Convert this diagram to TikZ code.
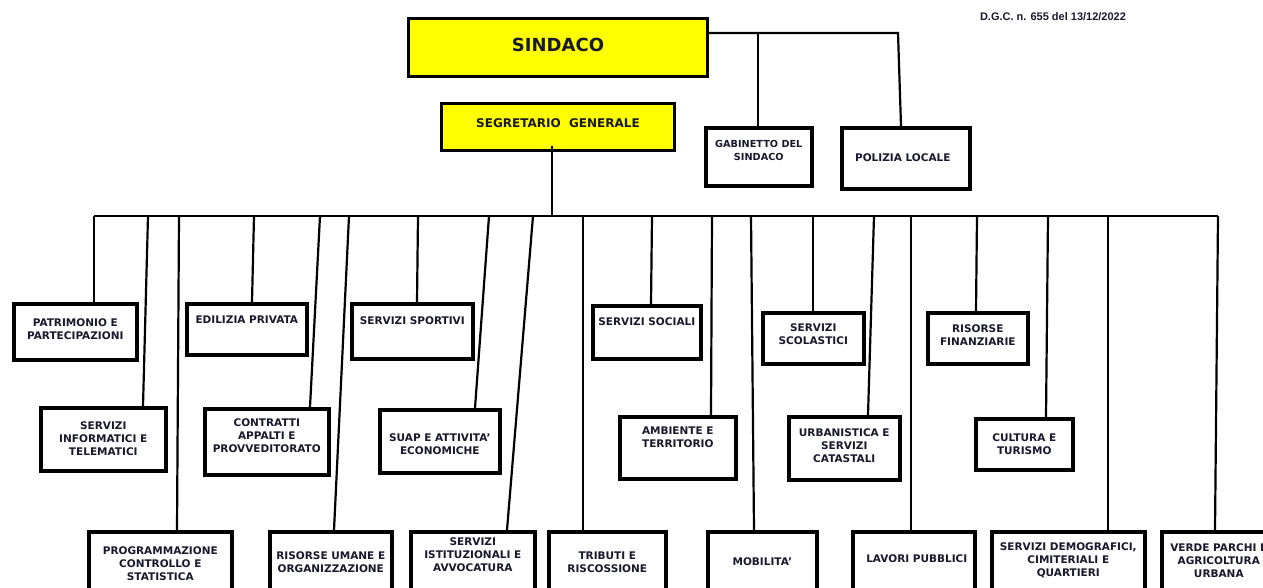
\documentclass[tikz,border=0pt]{standalone}
\usepackage{fontspec}
\setmainfont{DejaVu Sans}
\newfontfamily\dgcfont{Liberation Sans}
\definecolor{ink}{RGB}{25,25,45}
\definecolor{giallo}{RGB}{255,255,0}
\tikzset{
  unit/.style={draw=black, line width=3.6pt, fill=white, anchor=north west, inner sep=0pt},
  capo/.style={unit, fill=giallo, line width=3pt},
  txt/.style={font=\fontsize{10.5}{13}\selectfont\bfseries, text=ink, align=center, anchor=north, inner sep=0pt},
  wire/.style={line width=2.2pt},
  dgc/.style={font=\dgcfont\fontsize{11}{13}\selectfont\bfseries, text=ink, inner sep=0pt},
}

\begin{document}
\begin{tikzpicture}[x=1pt,y=-1pt]
\useasboundingbox (0,0) rectangle (1263,588);
\clip (0,0) rectangle (1263,588);
\node[dgc] (dgc) at (1053,17) {D.G.C. n. 655 del 13/12/2022};
\node[capo, minimum width=299pt, minimum height=58pt, label={[txt, font=\fontsize{18}{20}\selectfont\bfseries, yshift=-21pt]north:SINDACO}] (sindaco) at (407,17) {};
\node[capo, minimum width=233pt, minimum height=47pt, label={[txt, font=\fontsize{12}{14}\selectfont\bfseries, yshift=-16pt]north:{SEGRETARIO~ GENERALE}}] (segr) at (440,102) {};
\node[unit, minimum width=106pt, minimum height=58pt, label={[txt, font=\fontsize{9.7}{13}\selectfont\bfseries, yshift=-14pt]north:{GABINETTO DEL\\SINDACO}}] (gab) at (704,126) {};
\node[unit, minimum width=128pt, minimum height=61pt, label={[txt, xshift=-3pt, yshift=-28pt]north:{POLIZIA LOCALE}}] (pol) at (840,126) {};
\node[unit, minimum width=123pt, minimum height=56pt, label={[txt, yshift=-17pt]north:{PATRIMONIO E\\PARTECIPAZIONI}}] (patr) at (12,302) {};
\node[unit, minimum width=120pt, minimum height=51pt, label={[txt, yshift=-14pt]north:{EDILIZIA PRIVATA}}] (edil) at (185,302) {};
\node[unit, minimum width=121pt, minimum height=55pt, label={[txt, yshift=-15pt]north:{SERVIZI SPORTIVI}}] (sport) at (350,302) {};
\node[unit, minimum width=108pt, minimum height=53pt, label={[txt, yshift=-14pt]north:{SERVIZI SOCIALI}}] (soc) at (591,304) {};
\node[unit, minimum width=101pt, minimum height=51pt, label={[txt, yshift=-13pt]north:{SERVIZI\\SCOLASTICI}}] (scol) at (761,311) {};
\node[unit, minimum width=100pt, minimum height=51pt, label={[txt, yshift=-14pt]north:{RISORSE\\FINANZIARIE}}] (fin) at (926,311) {};
\node[unit, minimum width=125pt, minimum height=63pt, label={[txt, yshift=-16pt]north:{SERVIZI\\INFORMATICI E\\TELEMATICI}}] (info) at (39,406) {};
\node[unit, minimum width=124pt, minimum height=66pt, label={[txt, yshift=-12pt]north:{CONTRATTI\\APPALTI E\\PROVVEDITORATO}}] (contr) at (203,407) {};
\node[unit, minimum width=120pt, minimum height=63pt, label={[txt, yshift=-26pt]north:{SUAP E ATTIVITA'\\ECONOMICHE}}] (suap) at (378,408) {};
\node[unit, minimum width=116pt, minimum height=62pt, label={[txt, yshift=-12pt]north:{AMBIENTE E\\TERRITORIO}}] (amb) at (618,415) {};
\node[unit, minimum width=111pt, minimum height=63pt, label={[txt, yshift=-14pt]north:{URBANISTICA E\\SERVIZI\\CATASTALI}}] (urb) at (787,415) {};
\node[unit, minimum width=97pt, minimum height=51pt, label={[txt, yshift=-17pt]north:{CULTURA E\\TURISMO}}] (cult) at (974,417) {};
\node[unit, minimum width=143pt, minimum height=80pt, label={[txt, yshift=-17pt]north:{PROGRAMMAZIONE\\CONTROLLO E\\STATISTICA}}] (progr) at (87,530) {};
\node[unit, minimum width=122pt, minimum height=80pt, label={[txt, yshift=-22pt]north:{RISORSE UMANE E\\ORGANIZZAZIONE}}] (rum) at (268,530) {};
\node[unit, minimum width=124pt, minimum height=80pt, label={[txt, yshift=-8pt]north:{SERVIZI\\ISTITUZIONALI E\\AVVOCATURA}}] (istit) at (409,530) {};
\node[unit, minimum width=117pt, minimum height=80pt, label={[txt, yshift=-22pt]north:{TRIBUTI E\\RISCOSSIONE}}] (trib) at (547,530) {};
\node[unit, minimum width=109pt, minimum height=80pt, label={[txt, yshift=-28pt]north:{MOBILITA'}}] (mob) at (706,530) {};
\node[unit, minimum width=122pt, minimum height=80pt, label={[txt, xshift=3pt, yshift=-25pt]north:{LAVORI PUBBLICI}}] (lav) at (851,530) {};
\node[unit, minimum width=153pt, minimum height=80pt, label={[txt, yshift=-13pt]north:{SERVIZI DEMOGRAFICI,\\CIMITERIALI E\\QUARTIERI}}] (demo) at (990,530) {};
\node[unit, minimum width=114pt, minimum height=80pt, label={[txt, yshift=-14pt]north:{VERDE PARCHI E\\AGRICOLTURA\\URBANA}}] (verde) at (1160,530) {};
\coordinate (sjoin) at (898,33);
\coordinate (busL) at (94,216);
\coordinate (busR) at (1218,216);
\draw[wire] (sindaco.east |- sjoin) -- (sjoin) -- (pol.north -| 901,0);
\draw[wire] (sjoin -| 758,0) -- (gab.north -| 758,0);
\draw[wire] (segr.south -| 552,0) ++(0,-6) -- (busL -| 552,0);
\draw[wire] (busL) -- (busR);
\draw[wire] (busL) -- (patr.north -| 94,0);
\draw[wire] (busL -| 148,0) -- (info.north -| 143,0);
\draw[wire] (busL -| 179,0) -- (progr.north -| 177,0);
\draw[wire] (busL -| 254,0) -- (edil.north -| 252,0);
\draw[wire] (busL -| 320,0) -- (contr.north -| 310,0);
\draw[wire] (busL -| 349,0) -- (rum.north -| 334,0);
\draw[wire] (busL -| 418,0) -- (sport.north -| 417,0);
\draw[wire] (busL -| 489,0) -- (suap.north -| 475,0);
\draw[wire] (busL -| 533,0) -- (istit.north -| 507,0);
\draw[wire] (busL -| 583,0) -- (trib.north -| 583,0);
\draw[wire] (busL -| 652,0) -- (soc.north -| 651,0);
\draw[wire] (busL -| 712,0) -- (amb.north -| 711,0);
\draw[wire] (busL -| 751,0) -- (mob.north -| 754,0);
\draw[wire] (busL -| 813,0) -- (scol.north -| 813,0);
\draw[wire] (busL -| 874,0) -- (urb.north -| 868,0);
\draw[wire] (busL -| 911,0) -- (lav.north -| 911,0);
\draw[wire] (busL -| 977,0) -- (fin.north -| 976,0);
\draw[wire] (busL -| 1048,0) -- (cult.north -| 1046,0);
\draw[wire] (busL -| 1108,0) -- (demo.north -| 1108,0);
\draw[wire] (busR) -- (verde.north -| 1215,0);
\end{tikzpicture}
\end{document}
